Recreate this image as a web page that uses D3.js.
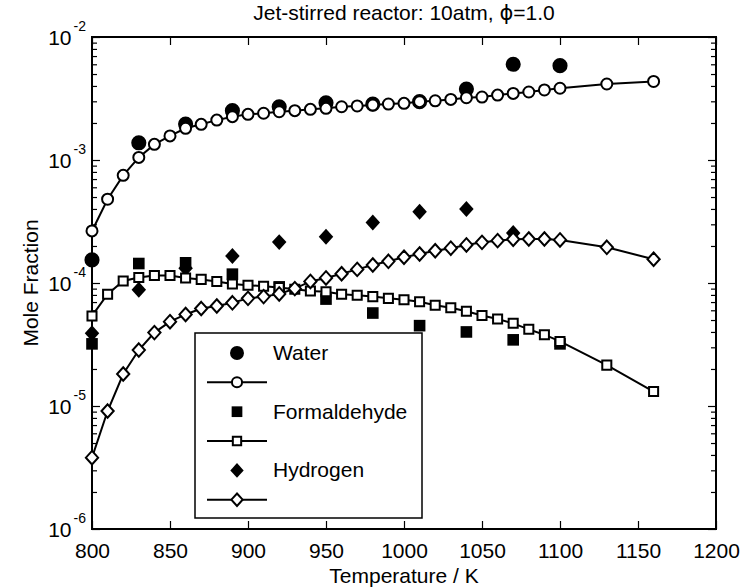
<!DOCTYPE html>
<html>
<head>
<meta charset="utf-8">
<script src="https://cdn.jsdelivr.net/npm/d3@7"></script>
<style>
  body { margin: 0; background: #fff; }
  svg { font-family: "Liberation Sans", Arial, sans-serif; }
</style>
</head>
<body>
<svg id="chart" width="747" height="587"></svg>
<script>
// model temperatures (lines with open markers)
const tModel = [800, 810, 820, 830, 840, 850, 860, 870, 880, 890, 900, 910, 920, 930, 940, 950,
  960, 970, 980, 990, 1000, 1010, 1020, 1030, 1040, 1050, 1060, 1070, 1080, 1090, 1100, 1130, 1160];
const waterModel = [2.65e-4, 4.8e-4, 7.5e-4, 1.05e-3, 1.34e-3, 1.57e-3, 1.81e-3, 1.95e-3, 2.11e-3, 2.25e-3,
  2.35e-3, 2.4e-3, 2.47e-3, 2.52e-3, 2.58e-3, 2.63e-3, 2.71e-3, 2.75e-3, 2.8e-3, 2.85e-3, 2.89e-3,
  2.98e-3, 3.03e-3, 3.11e-3, 3.21e-3, 3.25e-3, 3.37e-3, 3.48e-3, 3.57e-3, 3.71e-3, 3.83e-3, 4.15e-3, 4.35e-3];
const ch2oModel = [5.4e-5, 8.1e-5, 1.04e-4, 1.11e-4, 1.15e-4, 1.15e-4, 1.1e-4, 1.07e-4, 1.03e-4, 9.8e-5,
  9.6e-5, 9.4e-5, 9.2e-5, 8.9e-5, 8.6e-5, 8.5e-5, 8.1e-5, 7.95e-5, 7.75e-5, 7.5e-5, 7.3e-5,
  7.05e-5, 6.6e-5, 6.3e-5, 5.9e-5, 5.45e-5, 5.1e-5, 4.7e-5, 4.2e-5, 3.8e-5, 3.35e-5, 2.15e-5, 1.31e-5];
const h2Model = [3.8e-6, 9.1e-6, 1.82e-5, 2.85e-5, 3.95e-5, 4.85e-5, 5.55e-5, 6.2e-5, 6.5e-5, 6.9e-5,
  7.5e-5, 7.75e-5, 8.15e-5, 9.0e-5, 1.03e-4, 1.1e-4, 1.19e-4, 1.29e-4, 1.4e-4, 1.5e-4, 1.62e-4,
  1.72e-4, 1.83e-4, 1.92e-4, 2.04e-4, 2.14e-4, 2.21e-4, 2.27e-4, 2.28e-4, 2.28e-4, 2.24e-4, 1.95e-4, 1.56e-4];

// experimental temperatures (filled markers)
const tExp = [800, 830, 860, 890, 920, 950, 980, 1010, 1040, 1070, 1100];
const waterExp = [1.54e-4, 1.38e-3, 1.96e-3, 2.52e-3, 2.71e-3, 2.92e-3, 2.85e-3, 2.98e-3, 3.77e-3, 6.0e-3, 5.85e-3];
const ch2oExp = [3.2e-5, 1.44e-4, 1.46e-4, 1.18e-4, 9.3e-5, 7.4e-5, 5.7e-5, 4.5e-5, 4.0e-5, 3.45e-5, 3.2e-5];
const h2Exp = [3.9e-5, 8.8e-5, 1.32e-4, 1.66e-4, 2.15e-4, 2.38e-4, 3.1e-4, 3.8e-4, 4.0e-4, 2.55e-4];

const xTicks = [800, 850, 900, 950, 1000, 1050, 1100, 1150, 1200];
const yTicks = [1e-6, 1e-5, 1e-4, 1e-3, 1e-2];
const legendNames = ["Water", "Formaldehyde", "Hydrogen"];

const svg = d3.select("#chart");
const margin = { top: 37, right: 31, bottom: 58, left: 92 };
const width = 747, height = 587;

const x = d3.scaleLinear().domain([800, 1200]).range([margin.left, width - margin.right]);
const y = d3.scaleLog().domain([1e-6, 1e-2]).range([height - margin.bottom, margin.top]);

// MATLAB-ish diamond (wider than d3's)
const diamond = {
  draw(ctx, size) {
    const r = Math.sqrt(size / 2);
    ctx.moveTo(0, -r * 1.1);
    ctx.lineTo(r, 0);
    ctx.lineTo(0, r * 1.1);
    ctx.lineTo(-r, 0);
    ctx.closePath();
  }
};

const shapes = {
  circle: { type: d3.symbolCircle, filled: 180, open: 95 },
  square: { type: d3.symbolSquare, filled: 135, open: 82 },
  diamond: { type: diamond, filled: 105, open: 75 }
};

const series = [
  { name: "Water", shape: "circle", exp: waterExp, model: waterModel },
  { name: "Formaldehyde", shape: "square", exp: ch2oExp, model: ch2oModel },
  { name: "Hydrogen", shape: "diamond", exp: h2Exp, model: h2Model }
];

const g = svg.append("g");

// axis box
g.append("rect")
  .attr("x", margin.left).attr("y", margin.top)
  .attr("width", width - margin.left - margin.right)
  .attr("height", height - margin.top - margin.bottom)
  .attr("fill", "none").attr("stroke", "#000").attr("stroke-width", 2);

// x ticks (inward, bottom and top)
const xAxisB = d3.axisBottom(x).tickValues(xTicks).tickSize(-8).tickPadding(14).tickFormat(d3.format("d"));
g.append("g").attr("transform", `translate(0,${height - margin.bottom})`).call(xAxisB)
  .call(a => a.select(".domain").remove())
  .call(a => a.selectAll("line").attr("stroke-width", 1.2))
  .call(a => a.selectAll("text").attr("font-size", 21).attr("fill", "#000").attr("font-family", "Liberation Sans, Arial"));
const xAxisT = d3.axisTop(x).tickValues(xTicks).tickSize(-8).tickFormat("");
g.append("g").attr("transform", `translate(0,${margin.top})`).call(xAxisT)
  .call(a => a.select(".domain").remove())
  .call(a => a.selectAll("line").attr("stroke-width", 1.2));

// y ticks: minor and major, left and right
const minor = y.ticks().filter(v => !yTicks.includes(v));
[[d3.axisLeft, margin.left], [d3.axisRight, width - margin.right]].forEach(([ax, pos]) => {
  g.append("g").attr("transform", `translate(${pos},0)`)
    .call(ax(y).tickValues(minor).tickSize(-5).tickFormat(""))
    .call(a => a.select(".domain").remove())
    .call(a => a.selectAll("line").attr("stroke-width", 1.2));
  g.append("g").attr("transform", `translate(${pos},0)`)
    .call(ax(y).tickValues(yTicks).tickSize(-8).tickFormat(""))
    .call(a => a.select(".domain").remove())
    .call(a => a.selectAll("line").attr("stroke-width", 1.2));
});

// y tick labels 10^n
const yl = g.selectAll(".ylab").data(yTicks).join("text")
  .attr("class", "ylab")
  .attr("x", 86)
  .attr("y", d => y(d) + 8)
  .attr("text-anchor", "end")
  .attr("font-size", 21);
yl.append("tspan").text("10");
yl.append("tspan").attr("dy", -14).attr("dx", 2).attr("font-size", 14).text(d => Math.round(Math.log10(d)));

// data: experiments first, then model lines on top
series.forEach(s => {
  const sh = shapes[s.shape];
  g.append("g").selectAll("path").data(s.exp).join("path")
    .attr("transform", (d, i) => `translate(${x(tExp[i])},${y(d)})`)
    .attr("d", d3.symbol().type(sh.type).size(sh.filled))
    .attr("fill", "#000");
});
series.forEach(s => {
  const sh = shapes[s.shape];
  const line = d3.line().x((d, i) => x(tModel[i])).y(d => y(d));
  g.append("path").datum(s.model)
    .attr("d", line).attr("fill", "none").attr("stroke", "#000").attr("stroke-width", 2);
  g.append("g").selectAll("path").data(s.model).join("path")
    .attr("transform", (d, i) => `translate(${x(tModel[i])},${y(d)})`)
    .attr("d", d3.symbol().type(sh.type).size(sh.open))
    .attr("fill", "#fff").attr("stroke", "#000").attr("stroke-width", 2);
});

// legend
const lg = g.append("g");
lg.append("rect").attr("x", 195).attr("y", 333).attr("width", 227).attr("height", 185)
  .attr("fill", "#fff").attr("stroke", "#000").attr("stroke-width", 1.5);
series.forEach((s, i) => {
  const sh = shapes[s.shape];
  const y1 = 353 + i * 58.7, y2 = y1 + 29.3;
  lg.append("path").attr("transform", `translate(237,${y1})`)
    .attr("d", d3.symbol().type(sh.type).size(sh.filled * 0.85)).attr("fill", "#000");
  lg.append("text").attr("x", 273).attr("y", y1 + 7).attr("font-size", 21).text(legendNames[i]);
  lg.append("line").attr("x1", 207).attr("x2", 267).attr("y1", y2).attr("y2", y2)
    .attr("stroke", "#000").attr("stroke-width", 2);
  lg.append("path").attr("transform", `translate(237,${y2})`)
    .attr("d", d3.symbol().type(sh.type).size(sh.open * 0.85))
    .attr("fill", "#fff").attr("stroke", "#000").attr("stroke-width", 2);
});

// labels
svg.append("text").attr("x", (margin.left + width - margin.right) / 2).attr("y", 20)
  .attr("text-anchor", "middle").attr("font-size", 21)
  .html("Jet-stirred reactor: 10atm, <tspan font-family='DejaVu Sans'>ϕ</tspan>=1.0");
svg.append("text").attr("x", (margin.left + width - margin.right) / 2).attr("y", 583)
  .attr("text-anchor", "middle").attr("font-size", 21).text("Temperature / K");
svg.append("text").attr("transform", `translate(38,${(margin.top + height - margin.bottom) / 2}) rotate(-90)`)
  .attr("text-anchor", "middle").attr("font-size", 21).text("Mole Fraction");
</script>
</body>
</html>
